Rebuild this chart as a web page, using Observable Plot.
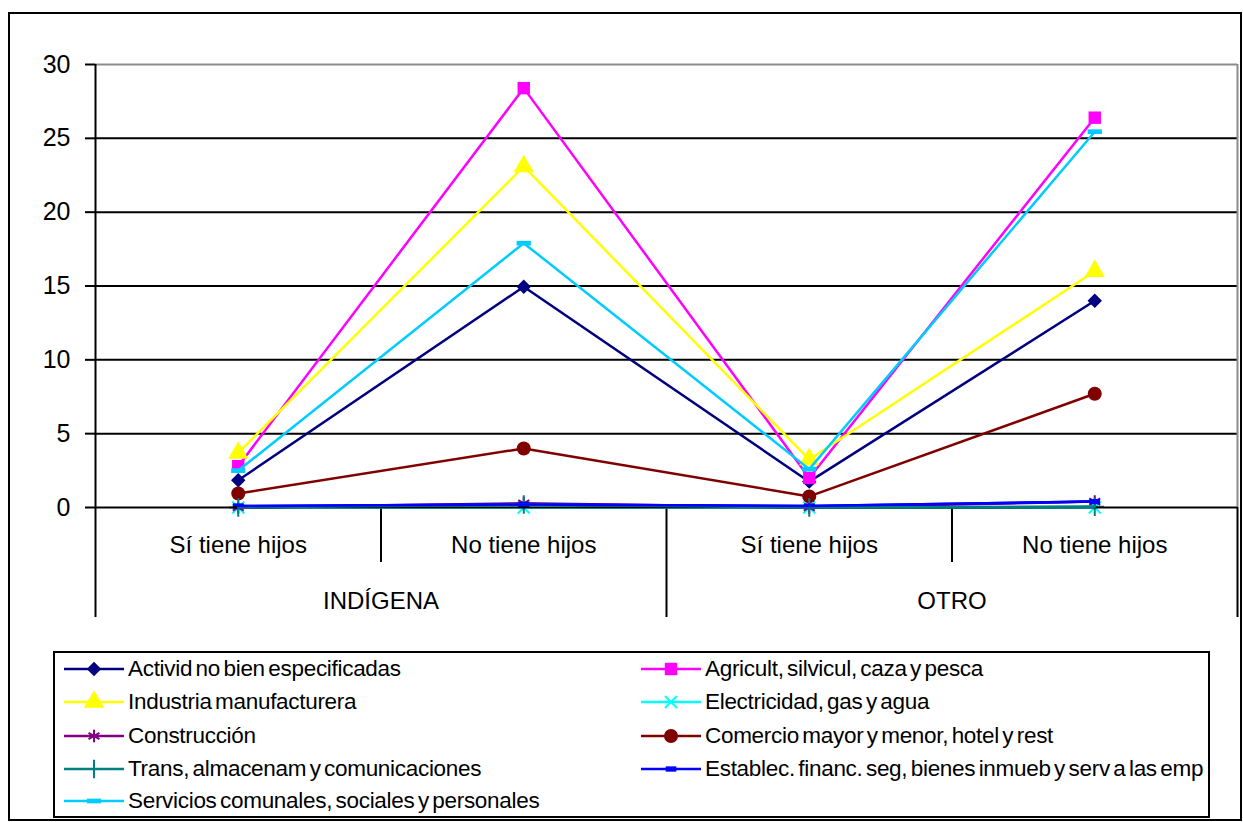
<!DOCTYPE html>
<html><head><meta charset="utf-8">
<script src="https://cdn.jsdelivr.net/npm/d3@7"></script>
<script src="https://cdn.jsdelivr.net/npm/@observablehq/plot@0.6"></script>
<style>
body{margin:0;background:#fff;font-family:"Liberation Sans",Arial,sans-serif;}
#wrap{position:relative;width:1243px;height:822px;overflow:hidden;background:#fff;}
#frame{position:absolute;left:8px;top:12px;width:1234px;height:809px;border:2px solid #000;box-sizing:border-box;}
#chart{position:absolute;left:0;top:0;}
#legend{position:absolute;left:53px;top:651px;width:1157px;height:167px;border:2px solid #000;box-sizing:border-box;background:#fff;}
.item{position:absolute;height:30px;display:flex;align-items:center;font-size:22.5px;color:#000;white-space:nowrap;word-spacing:-2.5px;letter-spacing:-0.3px;}
.item svg{display:block;margin-right:3px;}
</style></head>
<body><div id="wrap"><div id="frame"></div><div id="chart"></div><div id="legend"></div></div>
<script>
// ---- data ----
const categories = ["Sí tiene hijos", "No tiene hijos", "Sí tiene hijos", "No tiene hijos"];
const groups = ["INDÍGENA", "OTRO"];
const groupFirst = [0, 2];
const groupLast = [1, 3];
const yTicks = [0, 5, 10, 15, 20, 25, 30];
const seriesNames = [
  "Activid no bien especificadas",
  "Agricult, silvicul, caza y pesca",
  "Industria manufacturera",
  "Electricidad, gas y agua",
  "Construcción",
  "Comercio mayor y menor, hotel y rest",
  "Trans, almacenam y comunicaciones",
  "Establec. financ. seg, bienes inmueb y serv a las emp",
  "Servicios comunales, sociales y personales"
];
const activid      = [1.85, 14.95, 1.75, 14.0];
const agricult     = [2.8, 28.4, 2.0, 26.4];
const industria    = [3.7, 23.1, 3.25, 16.0];
const electricidad = [0, 0, 0, 0];
const construccion = [0, 0.28, 0, 0.4];
const comercio     = [0.95, 4.0, 0.75, 7.7];
const trans        = [0, 0.2, 0, 0.05];
const establec     = [0.1, 0.2, 0.1, 0.4];
const servicios    = [2.5, 17.9, 2.6, 25.45];
const seriesValues = [activid, agricult, industria, electricidad, construccion, comercio, trans, establec, servicios];

// ---- styles ----
const bar = (wf, hf) => ({draw(ctx, size) { const s = Math.sqrt(size); const w = s * wf, h = s * hf; ctx.rect(-w / 2, -h / 2, w, h); }});
const styles = [
  {color: "#000080", symbol: "diamond2", filled: true, r: 6.5},
  {color: "#FF00FF", symbol: "square", filled: true, r: 7},
  {color: "#FFFF00", symbol: "triangle", filled: true, r: 7.5},
  {color: "#00FFFF", symbol: "times", filled: false, r: 5.5},
  {color: "#800080", symbol: "asterisk", filled: false, r: 6},
  {color: "#800000", symbol: "circle", filled: true, r: 7},
  {color: "#008080", symbol: "plus", filled: false, r: 6},
  {color: "#0000FF", symbol: bar(1.0, 0.5), filled: true, r: 6},
  {color: "#00CCFF", symbol: bar(1.15, 0.38), filled: true, r: 7}
];

const data = seriesNames.flatMap((name, s) => seriesValues[s].map((v, i) => ({name, s, i, v})));
const longBounds = [groupFirst[0] - 0.5, groupLast[0] + 0.5, groupLast[1] + 0.5];
const shortBounds = [0.5, 2.5];

const marks = [
  Plot.ruleY(yTicks.filter(t => t > 0 && t < 30), {stroke: "#000", strokeWidth: 2}),
  Plot.ruleY([30], {stroke: "#8c8c8c", strokeWidth: 2}),
  Plot.ruleX([categories.length - 0.5], {y1: 0, y2: 30, stroke: "#8c8c8c", strokeWidth: 2}),
  Plot.ruleX([-0.5], {y1: 0, y2: 30, stroke: "#000", strokeWidth: 2}),
  Plot.ruleX(longBounds, {y1: 0, y2: 0, insetBottom: -110, stroke: "#000", strokeWidth: 2}),
  Plot.ruleX(shortBounds, {y1: 0, y2: 0, insetBottom: -55, stroke: "#000", strokeWidth: 2}),
  Plot.axisY(yTicks, {tickSize: 10, tickPadding: 15, fontSize: 25, strokeWidth: 2, label: null}),
  Plot.text(categories, {x: (d, i) => i, y: 0, text: d => d, dy: 38, fontSize: 24, fill: "#000"}),
  Plot.text(groups, {x: (d, i) => (groupFirst[i] + groupLast[i]) / 2, y: 0, dy: 94, text: d => d, fontSize: 24, fill: "#000"})
];
seriesNames.forEach((name, s) => {
  const st = styles[s];
  const sd = data.filter(d => d.s === s);
  marks.push(Plot.line(sd, {x: "i", y: "v", stroke: st.color, strokeWidth: 2.5}));
  marks.push(Plot.dot(sd, st.filled
    ? {x: "i", y: "v", symbol: st.symbol, r: st.r, fill: st.color, stroke: "none"}
    : {x: "i", y: "v", symbol: st.symbol, r: st.r, fill: "none", stroke: st.color, strokeWidth: 2}));
});
marks.push(Plot.ruleY([0], {stroke: "#000", strokeWidth: 2}));
// redraw near-zero series on top of baseline
[6, 7].forEach(s => {
  const st = styles[s];
  const sd = data.filter(d => d.s === s);
  marks.push(Plot.line(sd, {x: "i", y: "v", stroke: st.color, strokeWidth: 2.5}));
});

const chart = Plot.plot({
  width: 1243, height: 640,
  marginLeft: 95, marginRight: 6, marginTop: 64, marginBottom: 133,
  x: {type: "linear", domain: [-0.5, categories.length - 0.5], axis: null},
  y: {domain: [0, 30], axis: null},
  style: {fontFamily: "'Liberation Sans', Arial, sans-serif", fontSize: "24px", color: "#000", background: "transparent"},
  marks
});
document.getElementById("chart").appendChild(chart);

// ---- legend ----
const legend = document.getElementById("legend");
const rowTops = [1, 34, 68, 101, 133];
seriesNames.forEach((name, s) => {
  const st = styles[s];
  const col = s % 2, row = Math.floor(s / 2);
  const div = document.createElement("div");
  div.className = "item";
  div.style.left = (col === 0 ? 8 : 585) + "px";
  div.style.top = rowTops[row] + "px";
  const svg = d3.create("svg").attr("width", 62).attr("height", 30);
  svg.append("line").attr("x1", 1).attr("x2", 61).attr("y1", 15).attr("y2", 15).attr("stroke", st.color).attr("stroke-width", 2.5);
  const symMap = {diamond2: d3.symbolDiamond2, square: d3.symbolSquare, triangle: d3.symbolTriangle, times: d3.symbolTimes, asterisk: d3.symbolAsterisk, circle: d3.symbolCircle, plus: d3.symbolPlus};
  const sym = typeof st.symbol === "string" ? symMap[st.symbol] : st.symbol;
  svg.append("path").attr("transform", "translate(31,15)")
    .attr("d", d3.symbol(sym, st.r * st.r * Math.PI)())
    .attr("fill", st.filled ? st.color : "none")
    .attr("stroke", st.filled ? "none" : st.color).attr("stroke-width", 2);
  div.appendChild(svg.node());
  const span = document.createElement("span");
  span.textContent = name;
  div.appendChild(span);
  legend.appendChild(div);
});
</script></body></html>
